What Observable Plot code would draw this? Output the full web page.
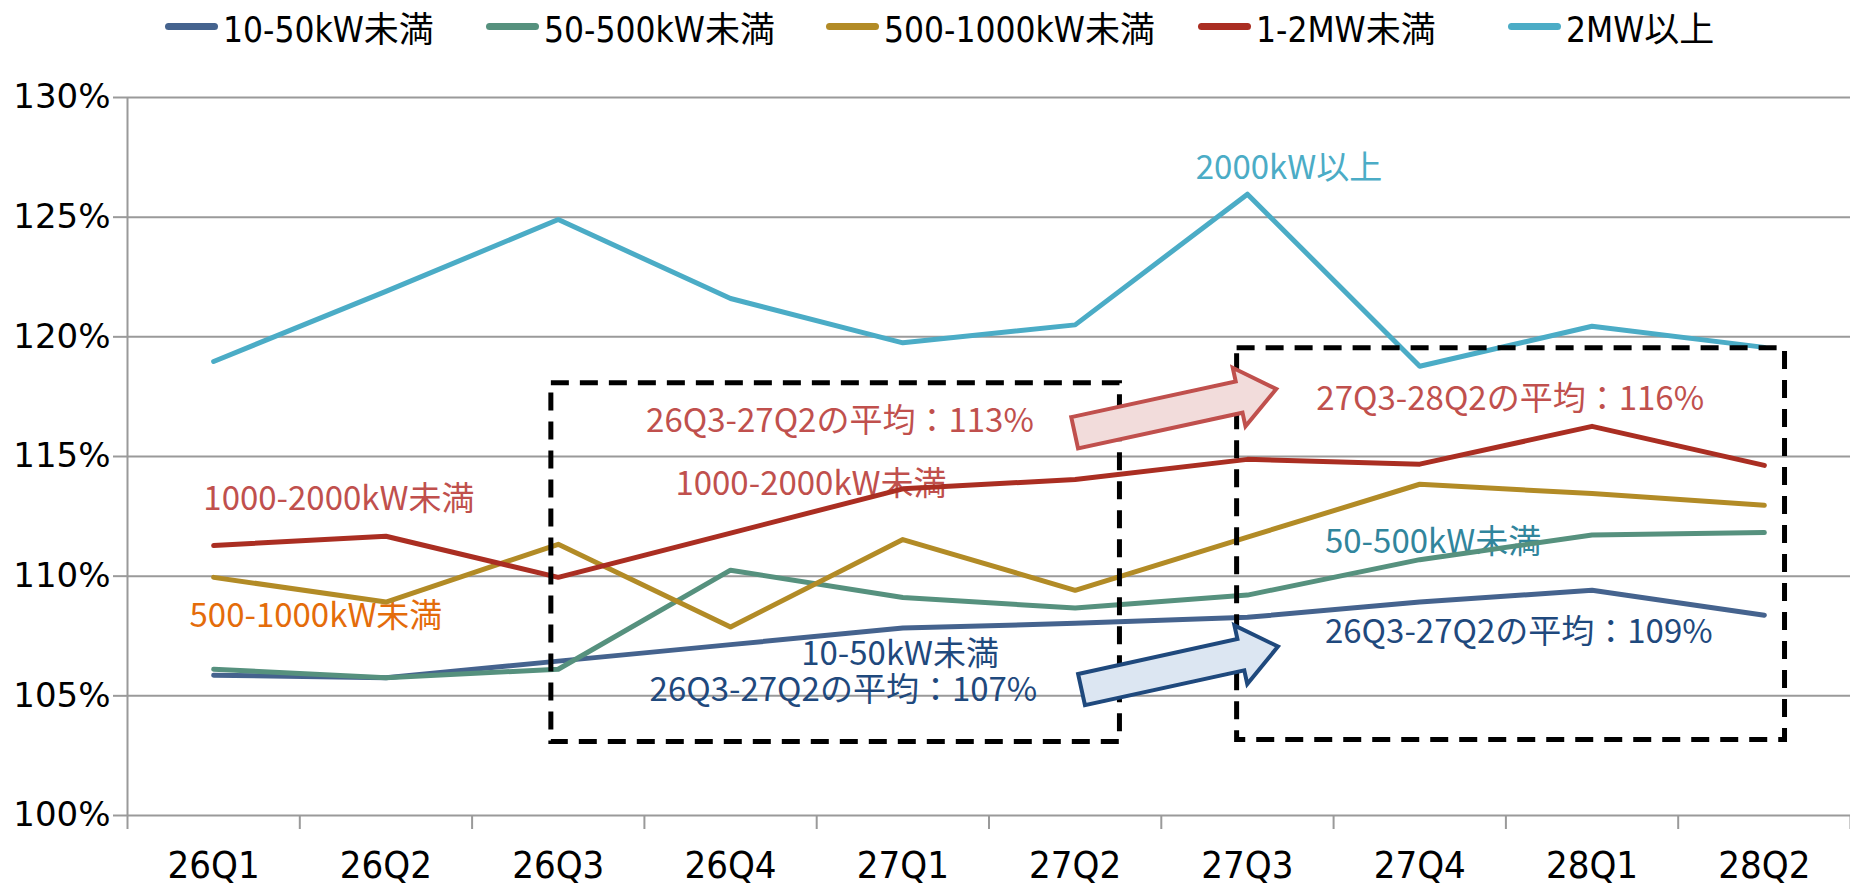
<!DOCTYPE html>
<html><head><meta charset="utf-8">
<script src="https://cdn.jsdelivr.net/npm/d3@7"></script>
<script src="https://cdn.jsdelivr.net/npm/@observablehq/plot@0.6"></script>
<style>
body{margin:0;background:#fff;width:1850px;height:888px;overflow:hidden;}
#legend{position:relative;height:52px;font-family:"Liberation Sans Narrow","DejaVu Sans Condensed","Noto Sans CJK JP",sans-serif;font-size:35px;color:#000;}
#legend .item{position:absolute;top:0;height:52px;display:flex;align-items:center;white-space:nowrap;}
#legend .sw{width:53px;height:7px;border-radius:4px;margin-right:5px;}
</style>
</head><body>
<div id="legend"></div>
<div id="chart"></div>
<script>
const quarters = ["26Q1","26Q2","26Q3","26Q4","27Q1","27Q2","27Q3","27Q4","28Q1","28Q2"];
const seriesNames = ["10-50kW未満","50-500kW未満","500-1000kW未満","1-2MW未満","2MW以上"];
const seriesColors = ["#45638E","#56917E","#B28B26","#AA2E22","#4BACC6"];
const s10_50   = [105.86,105.76,106.45,107.14,107.83,108.03,108.28,108.92,109.41,108.37];
const s50_500  = [106.11,105.76,106.11,110.25,109.11,108.67,109.21,110.69,111.72,111.82];
const s500_1000= [109.95,108.92,111.33,107.88,111.53,109.41,111.63,113.84,113.45,112.96];
const s1_2MW   = [111.28,111.67,109.95,111.80,113.65,114.04,114.88,114.68,116.26,114.63];
const s2MW     = [118.97,121.90,124.90,121.60,119.75,120.50,125.96,118.77,120.44,119.56];
const yTicks = [100,105,110,115,120,125,130];

// annotations: position in data space (quarter index, percent), left-anchored
const annText = ["2000kW以上","27Q3-28Q2の平均：116%","26Q3-27Q2の平均：113%","1000-2000kW未満","1000-2000kW未満","500-1000kW未満","50-500kW未満","10-50kW未満","26Q3-27Q2の平均：107%","26Q3-27Q2の平均：109%"];
const annX = [5.70,6.40,2.51,-0.06,2.68,-0.14,6.45,3.41,2.53,6.45];
const annY = [127.03,117.38,116.46,113.20,113.83,108.31,111.41,106.72,105.22,107.65];
const annColor = ["#4BACC6","#C0504D","#C0504D","#C0504D","#C0504D","#E46C0A","#31859C","#1F497D","#1F497D","#1F497D"];

// dashed boxes (quarter index, percent)
const boxX1 = [1.96,5.94], boxX2 = [5.26,9.12], boxY1 = [103.07,103.15], boxY2 = [118.06,119.52];
// block arrows: tail -> tip (quarter index, percent)
const arrX0 = [5.00,5.04], arrY0 = [115.97,105.24], arrX1 = [6.17,6.18], arrY1 = [117.80,107.04];
const arrFill = ["#F2DCDB","#DCE6F2"], arrStroke = ["#C0504D","#1F497D"];

const allSeries = [s10_50,s50_500,s500_1000,s1_2MW,s2MW];
const table = allSeries.flatMap((vals,k)=>vals.map((v,i)=>({i,v,s:seriesNames[k]})));
const anns = annText.map((t,k)=>({t,x:annX[k],y:annY[k],c:annColor[k]}));
const boxes = boxX1.map((d,k)=>({x1:boxX1[k],x2:boxX2[k],y1:boxY1[k],y2:boxY2[k]}));
const arrows = arrX0.map((d,k)=>({x0:arrX0[k],y0:arrY0[k],x1:arrX1[k],y1:arrY1[k],fill:arrFill[k],stroke:arrStroke[k]}));

// legend
const legendLeft = [165,486,826,1198,1508];
const lg = document.getElementById("legend");
seriesNames.forEach((n,k)=>{
  const it = document.createElement("div"); it.className="item"; it.style.left=legendLeft[k]+"px";
  const sw = document.createElement("div"); sw.className="sw"; sw.style.background=seriesColors[k];
  const tx = document.createElement("span"); tx.textContent=n;
  it.appendChild(sw); it.appendChild(tx); lg.appendChild(it);
});

const gray = "#9a9a9a";
const xfont = "'Liberation Sans Narrow','DejaVu Sans Condensed',sans-serif";
const cjk = "'Noto Sans CJK JP',sans-serif";

function arrowMark(index, scales) {
  const g = document.createElementNS("http://www.w3.org/2000/svg","g");
  const b=16, h=30, hl=38;
  for (const a of arrows) {
    const px0=scales.x(a.x0), py0=scales.y(a.y0), px1=scales.x(a.x1), py1=scales.y(a.y1);
    const L=Math.hypot(px1-px0,py1-py0), th=Math.atan2(py1-py0,px1-px0);
    const pts=[[0,-b],[L-hl,-b],[L-hl,-h],[L,0],[L-hl,h],[L-hl,b],[0,b]].map(([u,v])=>[px0+u*Math.cos(th)-v*Math.sin(th), py0+u*Math.sin(th)+v*Math.cos(th)]);
    const p=document.createElementNS("http://www.w3.org/2000/svg","path");
    p.setAttribute("d","M"+pts.map(q=>q.join(",")).join("L")+"Z");
    p.setAttribute("fill",a.fill); p.setAttribute("stroke",a.stroke); p.setAttribute("stroke-width","4");
    p.setAttribute("stroke-linejoin","miter");
    g.appendChild(p);
  }
  return g;
}

const chart = Plot.plot({
  width:1850, height:836,
  marginLeft:127, marginRight:0, marginTop:45, marginBottom:73,
  style:{background:"#fff", overflow:"visible"},
  x:{type:"linear", domain:[-0.5,9.5], axis:null},
  y:{domain:[100,130], axis:null},
  color:{domain:seriesNames, range:seriesColors},
  marks:[
    Plot.ruleY(yTicks,{stroke:gray,strokeWidth:2}),
    Plot.ruleX([-0.5],{y1:100,y2:130,stroke:gray,strokeWidth:2}),
    Plot.axisY({ticks:yTicks, tickFormat:d=>d+"%", tickSize:14, tickPadding:3, stroke:gray, strokeWidth:2, fill:"#000", fontSize:34, fontFamily:"'DejaVu Sans',sans-serif", label:null}),
    Plot.axisX({ticks:d3.range(-0.5,10,1), tickFormat:()=>"", tickSize:14, stroke:gray, strokeWidth:2, label:null}),
    Plot.axisX({ticks:d3.range(10), tickFormat:i=>quarters[i], tickSize:0, tickPadding:36, fill:"#000", fontSize:38, fontFamily:xfont, label:null}),
    Plot.text(anns,{x:"x",y:"y",text:"t",fill:"c",textAnchor:"start",fontSize:33,fontFamily:cjk}),
    Plot.line(table,{x:"i",y:"v",z:"s",stroke:"s",strokeWidth:5,strokeLinejoin:"round",strokeLinecap:"round"}),
    Plot.rect(boxes,{x1:"x1",x2:"x2",y1:"y1",y2:"y2",fill:"none",stroke:"#000",strokeWidth:5,strokeDasharray:"18,11"}),
    arrowMark
  ]
});
document.getElementById("chart").appendChild(chart);
</script>
</body></html>
